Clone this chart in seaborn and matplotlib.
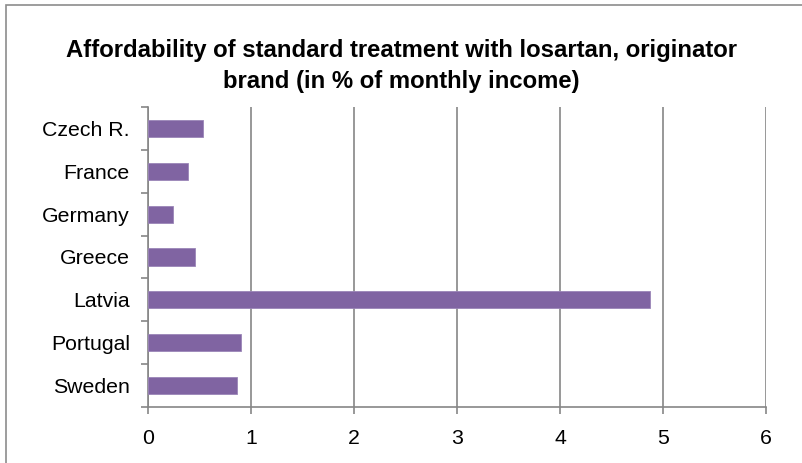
import matplotlib
matplotlib.use("Agg")
import matplotlib.pyplot as plt
import seaborn as sns
import pandas as pd
import numpy as np
from matplotlib.patches import Rectangle

countries = ["Czech R.", "France", "Germany", "Greece", "Latvia", "Portugal", "Sweden"]
values = [0.53, 0.39, 0.24, 0.46, 4.87, 0.90, 0.86]
x_ticks = [0, 1, 2, 3, 4, 5, 6]
title = "Affordability of standard treatment with losartan, originator\nbrand (in % of monthly income)"

sns.set_style("white")
plt.rcParams['font.family'] = ['Liberation Sans', 'DejaVu Sans']

df = pd.DataFrame({"country": countries, "value": values})

fig = plt.figure(figsize=(8.03, 4.63), dpi=100)
W, H = 803, 463
ax = fig.add_axes([148 / W, 1 - 407 / H, (766 - 148) / W, (407 - 107) / H])

grid_color = "#868686"
sns.barplot(data=df, x="value", y="country", orient="h", color="#8064A2",
            width=0.4, saturation=1, edgecolor="#9a85b8", linewidth=0.6, ax=ax, zorder=3)

ax.set_xlim(0, 6)
ax.set_ylim(len(countries) - 0.5, -0.5)
ax.set_xticks(x_ticks)
ax.set_xticklabels([str(t) for t in x_ticks], fontsize=15.3, color="black")
ax.xaxis.grid(True, color=grid_color, linewidth=1.2, zorder=0)
ax.set_axisbelow(True)
ax.set_xlabel("")
ax.set_ylabel("")

ax.set_yticks(range(len(countries)))
ax.set_yticklabels(countries, fontsize=15.3, color="black")
ax.set_yticks(np.arange(-0.5, len(countries), 1.0), minor=True)
ax.tick_params(axis="y", which="major", length=0, pad=13)
ax.tick_params(axis="y", which="minor", length=5, color=grid_color, width=1.2, left=True)
ax.tick_params(axis="x", which="major", length=5, color=grid_color, width=1.2, bottom=True, pad=11)

for s in ["top", "right"]:
    ax.spines[s].set_visible(False)
for s in ["left", "bottom"]:
    ax.spines[s].set_color(grid_color)
    ax.spines[s].set_linewidth(1.2)

fig.text(0.5, 1 - 66 / H, title, ha="center", va="center", fontsize=17.2,
         fontweight="bold", linespacing=1.45, color="black")

fig.patches.append(Rectangle((6 / W, -0.1), 1.2, 1 - 5 / H + 0.1, transform=fig.transFigure,
                             fill=False, edgecolor="#8c8c8c", linewidth=1.2))

fig.savefig("out.png", dpi=100)
